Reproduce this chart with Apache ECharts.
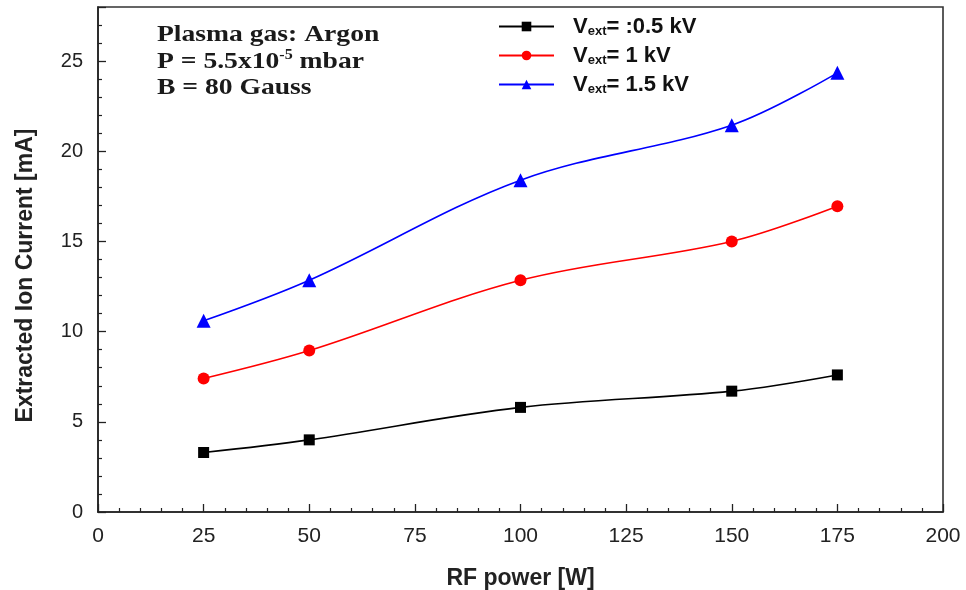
<!DOCTYPE html>
<html><head><meta charset="utf-8">
<script src="https://cdn.jsdelivr.net/npm/echarts@6/dist/echarts.min.js"></script>
<style>html,body{margin:0;padding:0;background:#fff}#c{width:966px;height:590px}</style>
</head><body><div id="c"></div>
<script>
const rfPower = [25, 50, 100, 150, 175];
const v05 = [3.3, 4.0, 5.8, 6.7, 7.6];
const v1 = [7.4, 8.95, 12.85, 15.0, 16.95];
const v15 = [10.6, 12.85, 18.4, 21.45, 24.35];
const seriesNames = ['V05', 'V1', 'V15'];
const legendLabels = {V05: '= :0.5 kV', V1: '= 1 kV', V15: '= 1.5 kV'};
const noteLines = ['Plasma gas: Argon', 'P = 5.5x10', '-5', ' mbar', 'B = 80 Gauss'];

const chart = echarts.init(document.getElementById('c'), null, {renderer: 'canvas'});
function pairs(ys){ return rfPower.map((x,i)=>[x, ys[i]]); }
const lineCommon = {type:'line', smooth:0.35, emphasis:{disabled:true}};
const SANS = 'Liberation Sans, Arial';
const SERIF = 'Liberation Serif, Times New Roman';
chart.setOption({
  animation:false,
  grid:{left:98, right:23, top:7, bottom:78, containLabel:false, outerBoundsMode:'none',
    show:true, borderColor:'#333', borderWidth:1.6, backgroundColor:'transparent'},
  xAxis:{type:'value', min:0, max:200, interval:25,
    axisLine:{onZero:false, lineStyle:{color:'#222', width:1.6}},
    axisTick:{inside:true, length:8, lineStyle:{color:'#222', width:1.3}},
    minorTick:{show:true, splitNumber:5, length:4, lineStyle:{color:'#222', width:1.2}},
    splitLine:{show:false},
    axisLabel:{color:'#222', fontSize:21, fontFamily:SANS, margin:14},
    name:'RF power [W]', nameLocation:'middle', nameGap:55,
    nameTextStyle:{color:'#222', fontSize:23, fontWeight:'bold', fontFamily:SANS}
  },
  yAxis:{type:'value', min:0, max:28, interval:5,
    axisLine:{onZero:false, lineStyle:{color:'#222', width:1.6}},
    axisTick:{inside:true, length:8, lineStyle:{color:'#222', width:1.3}},
    minorTick:{show:true, splitNumber:5, length:4, lineStyle:{color:'#222', width:1.2}},
    splitLine:{show:false},
    axisLabel:{color:'#222', fontSize:20, fontFamily:SANS, margin:15,
      formatter: v => (v % 5 === 0 ? String(v) : '')},
    name:'Extracted Ion Current [mA]', nameLocation:'middle', nameGap:61, nameRotate:90,
    nameTextStyle:{color:'#222', fontSize:23, fontWeight:'bold', fontFamily:SANS, padding:[0,32,0,0]}
  },
  legend:{
    left:498, top:15, orient:'vertical', itemGap:6, itemWidth:55, itemHeight:12,
    data: seriesNames,
    formatter: n => '{v|V}{s|ext}{v|' + legendLabels[n] + '}',
    textStyle:{color:'#111', fontSize:22, fontWeight:'bold', fontFamily:SANS, padding:[0,0,0,14],
      rich:{
        v:{fontSize:22, fontWeight:'bold', fontFamily:SANS, color:'#111', lineHeight:22},
        s:{fontSize:13, fontWeight:'bold', fontFamily:SANS, color:'#111', lineHeight:13, padding:[10,0,0,0]}
      }
    },
    padding:[0,0,0,0]
  },
  graphic:[{
    type:'text', left:157, top:23, silent:true, scaleX:1.15, originX:0, originY:0,
    style:{
      text: '{a|'+noteLines[0]+'}\n{a|'+noteLines[1]+'}{sup|'+noteLines[2]+'}{a|'+noteLines[3]+'}\n{a|'+noteLines[4]+'}',
      rich:{
        a:{fontSize:24, fontWeight:'bold', fontFamily:SERIF, fill:'#1a1a1a', lineHeight:26.5},
        sup:{fontSize:14, fontWeight:'bold', fontFamily:SERIF, fill:'#1a1a1a', lineHeight:26.5, padding:[0,0,12,0]}
      }
    }
  }],
  series:[
    Object.assign({}, lineCommon, {name:'V05', data:pairs(v05), color:'#000', symbol:'rect', symbolSize:11, lineStyle:{width:1.6, color:'#000'}, itemStyle:{color:'#000'}}),
    Object.assign({}, lineCommon, {name:'V1', data:pairs(v1), color:'#ff0000', symbol:'circle', symbolSize:12, lineStyle:{width:1.6, color:'#ff0000'}, itemStyle:{color:'#ff0000'}}),
    Object.assign({}, lineCommon, {name:'V15', data:pairs(v15), color:'#0000ff', symbol:'triangle', symbolSize:14, lineStyle:{width:1.6, color:'#0000ff'}, itemStyle:{color:'#0000ff'}})
  ]
});
</script></body></html>
